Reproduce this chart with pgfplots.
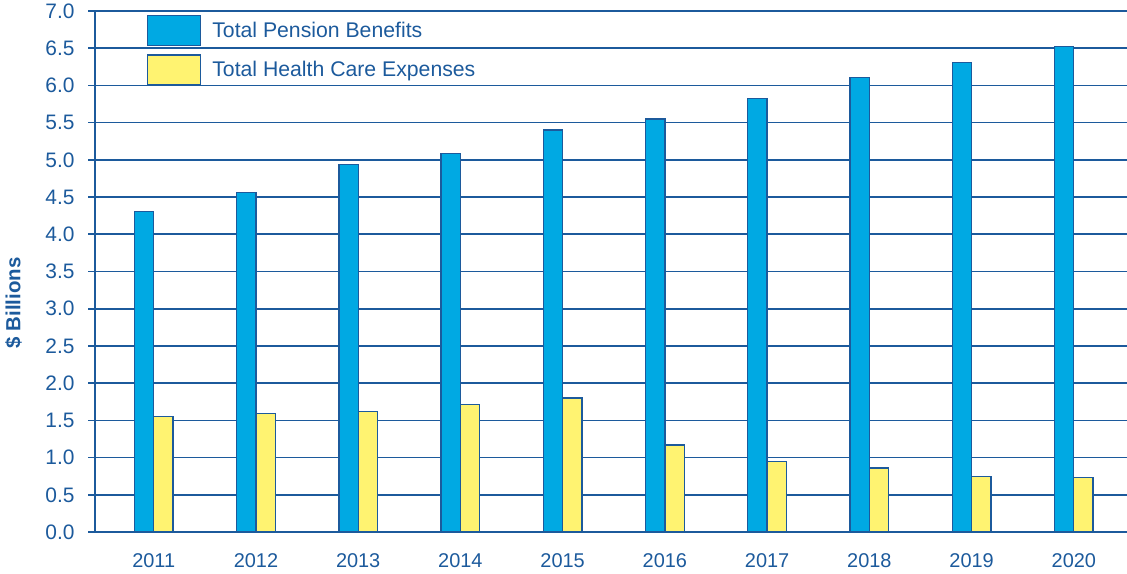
\documentclass[border=0pt]{standalone}
\usepackage{fontspec}
\setmainfont{Liberation Sans}
\usepackage{pgfplots}
\pgfplotsset{compat=1.18}
\definecolor{navy}{HTML}{1C5A9C}
\definecolor{barblue}{HTML}{00A9E3}
\definecolor{baryellow}{HTML}{FFF371}
\pgfplotsset{mybox/.style={legend image code/.code={\draw[##1] (0bp,-15bp) rectangle (53bp,15bp);}}}
\begin{document}
\begin{tikzpicture}
\begin{axis}[
  scale only axis, width=1032bp, height=521bp,
  xmin=-0.574, xmax=9.52, ymin=0, ymax=7,
  ybar=0pt, bar width=19.3bp,
  axis x line=bottom, axis y line=left,
  axis line style={-, navy, line width=1.6bp},
  xtick={0,1,2,3,4,5,6,7,8,9},
  xticklabels={2011,2012,2013,2014,2015,2016,2017,2018,2019,2020},
  ytick={0,0.5,1,1.5,2,2.5,3,3.5,4,4.5,5,5.5,6,6.5,7},
  ymajorgrids, grid style={navy, line width=1.6bp},
  tick align=outside, major tick length=7bp,
  tick style={navy, line width=1.6bp},
  xtick style={draw=none},
  ticklabel style={text=navy},
  xticklabel style={yshift=-11bp, font=\fontsize{20}{24}\selectfont},
  yticklabel style={xshift=-10bp, font=\fontsize{21}{25}\selectfont, /pgf/number format/.cd, fixed, fixed zerofill, precision=1, assume math mode=true},
  ylabel={\$ Billions},
  ylabel style={font=\fontsize{20.5}{24}\selectfont\bfseries, text=navy, at={(axis description cs:0,0.44)}, yshift=81.5bp, anchor=center},
  legend style={at={(axis description cs:0.0504,0.9923)}, anchor=north west, draw=none, fill=none, inner sep=0pt, outer sep=0pt, font=\fontsize{21.3}{25}\selectfont, text=navy, nodes={inner sep=0pt, anchor=west}, column sep=11bp, row sep=8bp},
  legend cell align=left,
]
\addplot[fill=barblue, draw=navy, line width=1.3bp, mybox] coordinates {
  (0,4.31) (1,4.56) (2,4.94) (3,5.09) (4,5.40) (5,5.55) (6,5.82) (7,6.11) (8,6.31) (9,6.52)};
\addlegendentry{Total Pension Benefits}
\addplot[fill=baryellow, draw=navy, line width=1.3bp, mybox] coordinates {
  (0,1.55) (1,1.59) (2,1.62) (3,1.71) (4,1.80) (5,1.17) (6,0.95) (7,0.86) (8,0.75) (9,0.73)};
\addlegendentry{Total Health Care Expenses}
\end{axis}
\pgfresetboundingbox
\path[use as bounding box] ([xshift=-95bp,yshift=-41bp]current axis.south west) rectangle ([yshift=11bp]current axis.north east);
\end{tikzpicture}
\end{document}
